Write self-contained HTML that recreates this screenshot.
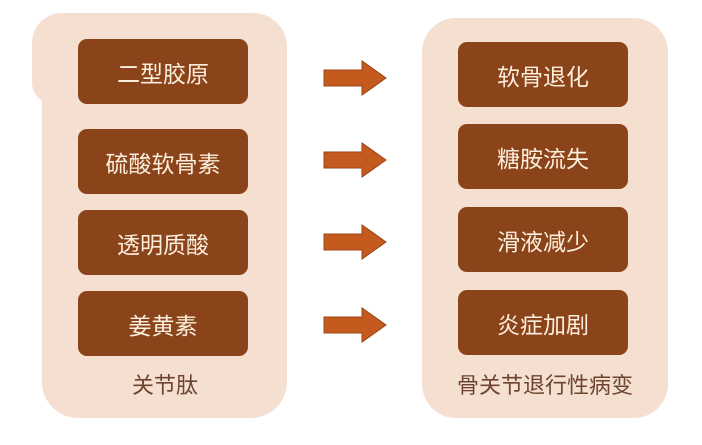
<!DOCTYPE html>
<html><head><meta charset="utf-8"><style>
body{margin:0;width:702px;height:445px;background:#fff;position:relative;overflow:hidden;font-family:"Liberation Sans","Noto Sans CJK SC",sans-serif}
.p{position:absolute;background:#f4dfd1}
.b{position:absolute;width:170px;height:65px;background:#8b441a;border-radius:9px;color:#fbeedd;font-size:23px;display:flex;align-items:center;justify-content:center}
.l{position:absolute;color:#6e4430;font-size:22px;text-align:center;width:250px}
svg{position:absolute}
</style></head><body>
<div class="p" style="left:32px;top:13px;width:240px;height:90px;border-radius:30px 30px 0 20px"></div>
<div class="p" style="left:42px;top:13px;width:245px;height:405px;border-radius:30px 34px 36px 36px"></div>
<div class="p" style="left:422px;top:18px;width:246px;height:400px;border-radius:34px"></div>
<div class="b" style="left:78px;top:39px">二型胶原</div>
<div class="b" style="left:78px;top:129px">硫酸软骨素</div>
<div class="b" style="left:78px;top:210px">透明质酸</div>
<div class="b" style="left:78px;top:291px">姜黄素</div>
<div class="b" style="left:458px;top:42px">软骨退化</div>
<div class="b" style="left:458px;top:124px">糖胺流失</div>
<div class="b" style="left:458px;top:207px">滑液减少</div>
<div class="b" style="left:458px;top:290px">炎症加剧</div>
<div class="l" style="left:40px;top:368px">关节肽</div>
<div class="l" style="left:420px;top:368px">骨关节退行性病变</div>
<svg width="702" height="445" style="left:0;top:0">
<g fill="#c55a1f" stroke="#9a4515" stroke-width="1">
<path d="M324 70h38v-9l24 17-24 17v-9h-38z"/>
<path d="M324 152h38v-9l24 17-24 17v-9h-38z"/>
<path d="M324 234h38v-9l24 17-24 17v-9h-38z"/>
<path d="M324 317h38v-9l24 17-24 17v-9h-38z"/>
</g></svg>
</body></html>
